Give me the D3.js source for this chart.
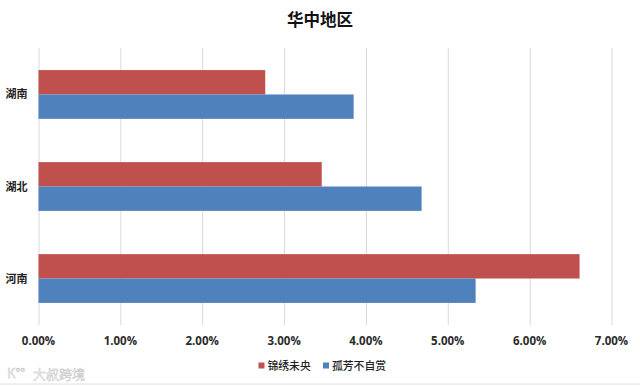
<!DOCTYPE html>
<html>
<head>
<meta charset="utf-8">
<script src="https://cdn.jsdelivr.net/npm/d3@7"></script>
<style>
	html, body { margin: 0; padding: 0; background: #fff; }
	svg { display: block; }
	text { font-family: "Noto Sans CJK SC", "Noto Sans", sans-serif; fill: #222; }
	.tick-label { font-family: "Open Sans", "Noto Sans", sans-serif; font-size: 11.5px; font-weight: 700; fill: #2b2b2b; }
	.cat-label { font-size: 11px; font-weight: 700; }
	.title { font-size: 16.5px; font-weight: 700; fill: #111; }
	.legend { font-size: 10.8px; font-weight: 500; }
	.mark { font-size: 13px; fill: #fff; stroke: #c4c4c4; stroke-width: 0.5px; }
	.grid line { stroke: #d9d9d9; }
</style>
</head>
<body>
<svg id="chart" width="640" height="386"></svg>
<script>
const categories = ['湖南', '湖北', '河南'];
const seriesNames = ['锦绣未央', '孤芳不自赏'];
const seriesColors = ['#c0504d', '#4f81bd'];
const redValues = [2.77, 3.46, 6.61];
const blueValues = [3.85, 4.68, 5.34];
const ticks = [0, 1, 2, 3, 4, 5, 6, 7];

const margin = {top: 48, right: 28.5, bottom: 61, left: 38.5};
const width = 640 - margin.left - margin.right;
const height = 386 - margin.top - margin.bottom;

const svg = d3.select('#chart');
const g = svg.append('g')
	.attr('transform', `translate(${margin.left},${margin.top})`);

const xScale = d3.scaleLinear().domain([0, 7]).range([0, width]);
const yScale = d3.scaleBand().domain(categories).range([0, height]).paddingInner(0.47).paddingOuter(0.24);
const barScale = d3.scaleBand().domain(seriesNames).range([0, yScale.bandwidth()]);

// gridlines
const grid = g.append('g').attr('class', 'grid')
	.call(d3.axisBottom(xScale).tickValues(ticks).tickSize(height).tickFormat(''));
grid.select('.domain').remove();

// bars
[redValues, blueValues].forEach(function(values, s) {
	g.append('g').selectAll('rect')
		.data(values)
		.join('rect')
		.attr('x', 0)
		.attr('y', (d, i) => yScale(categories[i]) + barScale(seriesNames[s]))
		.attr('width', d => xScale(d))
		.attr('height', barScale.bandwidth())
		.attr('fill', seriesColors[s]);
});

// tick labels
g.append('g').selectAll('text')
	.data(ticks)
	.join('text')
	.attr('class', 'tick-label')
	.attr('x', d => xScale(d))
	.attr('y', height + 19.5)
	.attr('text-anchor', 'middle')
	.text(d => d.toFixed(2) + '%');

// category labels
g.append('g').selectAll('text')
	.data(categories)
	.join('text')
	.attr('class', 'cat-label')
	.attr('x', -33)
	.attr('y', d => yScale(d) + yScale.bandwidth() / 2 + 4)
	.text(d => d);

svg.append('text')
	.attr('class', 'title')
	.attr('x', 320)
	.attr('y', 26)
	.attr('text-anchor', 'middle')
	.text('华中地区');

// legend
const legendX = [258.5, 323];
seriesNames.forEach(function(name, i) {
	svg.append('rect')
		.attr('x', legendX[i])
		.attr('y', 362.5)
		.attr('width', 6)
		.attr('height', 6)
		.attr('fill', seriesColors[i]);
	svg.append('text')
		.attr('class', 'legend')
		.attr('x', legendX[i] + 9)
		.attr('y', 369.5)
		.text(name);
});

// watermark and bottom edge
svg.append('text')
	.attr('class', 'mark')
	.attr('x', 33)
	.attr('y', 379)
	.text('大叔跨境');
svg.append('text')
	.attr('class', 'mark')
	.attr('x', 7)
	.attr('y', 378)
	.text('K°°');
svg.append('line')
	.attr('x1', 0).attr('x2', 640)
	.attr('y1', 384).attr('y2', 384)
	.attr('stroke', '#e0e0e0');
</script>
</body>
</html>
